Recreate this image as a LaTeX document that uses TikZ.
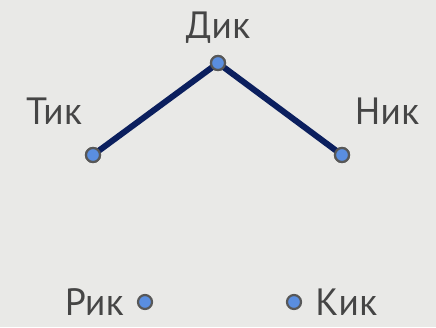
\documentclass[tikz,border=0pt]{standalone}
\usepackage{fontspec}
\setmainfont{PT Sans}
\usetikzlibrary{positioning}
\definecolor{navy}{HTML}{0B1F5E}
\definecolor{dotblue}{HTML}{5A8EE0}
\definecolor{page}{HTML}{E9E9E7}
\definecolor{ink}{HTML}{454545}

\begin{document}
\begin{tikzpicture}[x=1pt, y=-1pt,
  dot/.style={circle, draw=ink!90, line width=2.2pt, fill=dotblue, minimum size=14pt, inner sep=0pt},
  kid/.style={text=ink, font=\fontsize{38}{40}\selectfont, inner sep=0pt},
  link/.style={navy, line width=6pt},
]
\fill[page] (0,0) rectangle (436,327);
\useasboundingbox (0,0) rectangle (436,327);
\node[dot] (dik) at (218,63) {};
\node[dot] (tik) at (93,155) {};
\node[dot] (nik) at (342,155) {};
\node[dot] (rik) at (145,302) {};
\node[dot] (kik) at (294,302) {};
\node[kid] (dikname) at (218,28) {Дик};
\node[kid] (tikname) at (54,111) {Тик};
\node[kid] (nikname) at (387,111) {Ник};
\node[kid, left=13pt of rik] (rikname) {Рик};
\node[kid, right=13pt of kik] (kikname) {Кик};
\draw[link] (tik.center) -- (dik.center) -- (nik.center);
\node[dot] at (dik) {};
\node[dot] at (tik) {};
\node[dot] at (nik) {};
\end{tikzpicture}
\end{document}
